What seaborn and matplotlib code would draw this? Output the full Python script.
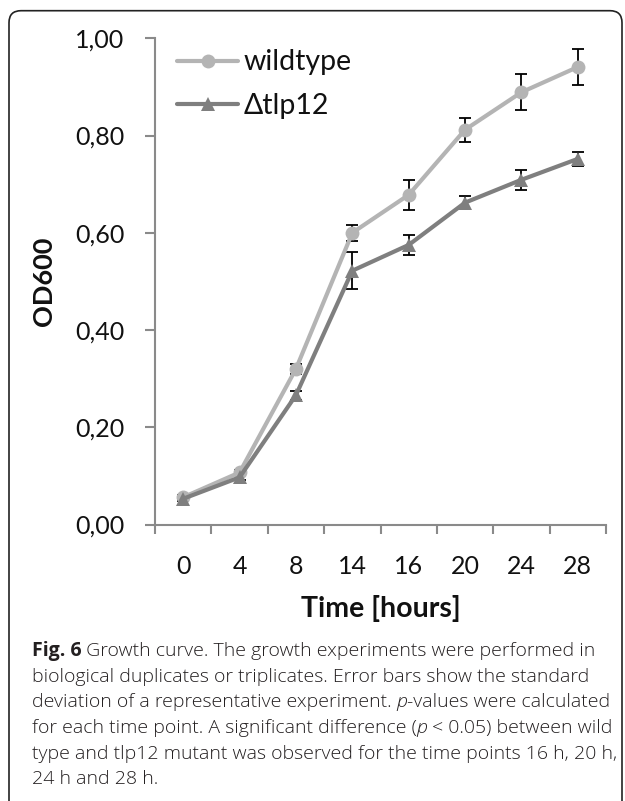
import numpy as np
import pandas as pd
import seaborn as sns
import matplotlib
matplotlib.use("Agg")
import matplotlib.pyplot as plt
from matplotlib.patches import FancyBboxPatch
from matplotlib.ticker import FixedLocator, FuncFormatter

# ---- data ---------------------------------------------------------------
time_labels = ["0", "4", "8", "14", "16", "20", "24", "28"]
strains = ["wildtype", "\u0394tlp12"]
wildtype_od = [0.056, 0.107, 0.320, 0.600, 0.678, 0.812, 0.889, 0.941]
wildtype_sd = [0.004, 0.005, 0.010, 0.016, 0.031, 0.025, 0.037, 0.037]
mutant_od = [0.053, 0.097, 0.266, 0.522, 0.575, 0.662, 0.709, 0.752]
mutant_sd = [0.004, 0.005, 0.009, 0.038, 0.021, 0.013, 0.020, 0.015]

W, H, DPI = 625, 801, 100
FONT = ["Lato", "DejaVu Sans"]
CAP_FONT = ["Open Sans", "DejaVu Sans"]
colors = {strains[0]: "#b4b4b4", strains[1]: "#7f7f7f"}
axis_grey = "#8a8a8a"

sns.set_theme(style="white")
plt.rcParams["font.family"] = FONT

pos = np.arange(len(time_labels))
df = pd.DataFrame({
    "pos": np.concatenate([pos, pos]),
    "od": wildtype_od + mutant_od,
    "sd": wildtype_sd + mutant_sd,
    "strain": [strains[0]] * len(pos) + [strains[1]] * len(pos),
})

fig = plt.figure(figsize=(W / DPI, H / DPI), dpi=DPI)
fig.patch.set_facecolor("white")

# plot area in pixel units
left, right, top, bottom = 155, 606, 38.3, 524.5
ax = fig.add_axes([left / W, 1 - bottom / H, (right - left) / W, (bottom - top) / H])
ax.set_facecolor("white")

# error bars sit underneath the lines and markers
for s in strains:
    sub = df[df["strain"] == s]
    ax.errorbar(sub["pos"], sub["od"], yerr=sub["sd"], fmt="none",
                ecolor="black", elinewidth=1.3, capsize=4.5, capthick=1.3,
                zorder=1)

sns.lineplot(data=df, x="pos", y="od", hue="strain", style="strain",
             hue_order=strains, style_order=strains, palette=colors,
             markers={strains[0]: "o", strains[1]: "^"}, dashes=False,
             linewidth=3.0, markersize=10, markeredgewidth=0,
             ax=ax, zorder=3)

ax.set_xlim(-0.5, len(time_labels) - 0.5)
ax.set_ylim(0, 1.0)

# spines
for side in ["top", "right"]:
    ax.spines[side].set_visible(False)
for side in ["left", "bottom"]:
    ax.spines[side].set_color(axis_grey)
    ax.spines[side].set_linewidth(1.5)

# y axis ticks with decimal commas
ax.yaxis.set_major_locator(FixedLocator([0, 0.2, 0.4, 0.6, 0.8, 1.0]))
ax.yaxis.set_major_formatter(FuncFormatter(lambda v, _: f"{v:.2f}".replace(".", ",")))
ax.tick_params(axis="y", which="major", direction="out", length=7, width=1.5,
               color=axis_grey, left=True, pad=15, labelsize=18, labelcolor="#111111")

# categorical x axis: labels at centres, tick marks between categories
ax.set_xticks(pos)
ax.set_xticklabels(time_labels)
ax.set_xticks(np.arange(-0.5, len(time_labels), 1.0), minor=True)
ax.tick_params(axis="x", which="major", length=0, pad=22, labelsize=18,
               labelcolor="#111111")
ax.tick_params(axis="x", which="minor", direction="out", length=6.5, width=1.5,
               color=axis_grey, bottom=True)

ax.set_xlabel("Time [hours]", fontsize=20.5, fontweight="bold", color="#111111")
ax.set_ylabel("OD600", fontsize=19.5, fontweight="bold", color="#111111")
ax.xaxis.set_label_coords(0.5, -0.145)
ax.yaxis.set_label_coords(-0.22, 0.5)

# legend
handles, labels = ax.get_legend_handles_labels()
keep = [(h, l) for h, l in zip(handles, labels) if l in strains]
leg = ax.legend([h for h, _ in keep], [l for _, l in keep],
                loc="upper left", bbox_to_anchor=((177 - left) / (right - left), 0.977),
                frameon=False, fontsize=20.5, handlelength=2.15, handletextpad=0.2,
                borderpad=0, borderaxespad=0, labelspacing=0.62)
for t in leg.get_texts():
    t.set_color("#111111")
for h in leg.legend_handles:
    h.set_linewidth(3.0)

# caption, drawn run by run so that bold and italic pieces line up
caption_lines = [
    [("Fig. 6", "bold", "normal"), (" Growth curve. The growth experiments were performed in", "light", "normal")],
    [("biological duplicates or triplicates. Error bars show the standard", "light", "normal")],
    [("deviation of a representative experiment. ", "light", "normal"), ("p", "light", "italic"),
     ("-values were calculated", "light", "normal")],
    [("for each time point. A significant difference (", "light", "normal"), ("p", "light", "italic"),
     (" < 0.05) between wild", "light", "normal")],
    [("type and tlp12 mutant was observed for the time points 16 h, 20 h,", "light", "normal")],
    [("24 h and 28 h.", "light", "normal")],
]
renderer = fig.canvas.get_renderer()
cap_x0, cap_y0, cap_dy, cap_size = 31.5, 656, 25.7, 14.0
for i, runs in enumerate(caption_lines):
    x = cap_x0
    y = cap_y0 + i * cap_dy
    for text, weight, style in runs:
        t = fig.text(x / W, 1 - y / H, text, fontsize=cap_size, fontweight=weight,
                     fontstyle=style, family=CAP_FONT, color="#231f20",
                     ha="left", va="baseline")
        x += t.get_window_extent(renderer).width

# rounded frame around the figure
frame = FancyBboxPatch((9, -30), 613, H - 10.7 + 30,
                       boxstyle="round,pad=0,rounding_size=12",
                       transform=None, facecolor="none", edgecolor="#222222",
                       linewidth=1.2, clip_on=False)
fig.add_artist(frame)

fig.savefig("out.png", dpi=DPI, facecolor="white")
